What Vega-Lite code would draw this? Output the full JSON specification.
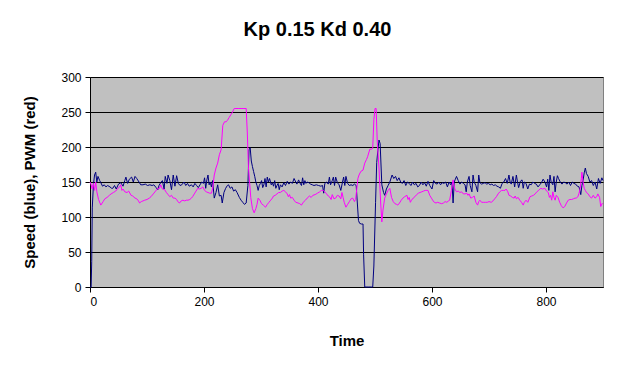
{
"$schema": "https://vega.github.io/schema/vega-lite/v6.json",
"autosize": "none",
"width": 513,
"height": 210,
"padding": {"left": 90, "top": 77, "right": 31, "bottom": 79},
"background": "white",
"title": {"text": "Kp 0.15 Kd 0.40", "fontSize": 20, "fontWeight": "bold", "font": "Liberation Sans", "color": "black", "anchor": "middle", "offset": 31, "dx": -29},
"config": {
  "view": {"fill": "#C0C0C0", "stroke": "#808080", "strokeWidth": 1},
  "axis": {"labelFont": "Liberation Sans", "labelFontSize": 12, "labelColor": "black", "labelOverlap": false, "titleFont": "Liberation Sans", "titleFontSize": 15, "titleFontWeight": "bold", "titleColor": "black", "domainColor": "black", "tickColor": "black", "gridColor": "black", "gridOpacity": 1, "gridWidth": 1}
},
"datasets": {
"speed": [
{"t":0,"v":0},{"t":2,"v":0},{"t":3,"v":36},{"t":4,"v":113},{"t":6,"v":146},{"t":8,"v":160},{"t":10,"v":164},{"t":12,"v":150},{"t":14,"v":158},{"t":17,"v":152},{"t":19,"v":149},{"t":22,"v":144},{"t":25,"v":146},{"t":28,"v":143},{"t":31,"v":145},{"t":35,"v":143},{"t":38,"v":141},{"t":40,"v":141},{"t":43,"v":145},{"t":46,"v":140},{"t":50,"v":147},{"t":54,"v":149},{"t":58,"v":144},{"t":61,"v":152},{"t":63,"v":157},{"t":66,"v":148},{"t":69,"v":154},{"t":73,"v":157},{"t":76,"v":150},{"t":79,"v":158},{"t":82,"v":155},{"t":86,"v":150},{"t":89,"v":146},{"t":93,"v":146},{"t":97,"v":147},{"t":101,"v":145},{"t":105,"v":146},{"t":109,"v":145},{"t":112,"v":146},{"t":116,"v":142},{"t":119,"v":139},{"t":121,"v":145},{"t":124,"v":149},{"t":127,"v":152},{"t":130,"v":140},{"t":132,"v":158},{"t":135,"v":148},{"t":137,"v":160},{"t":140,"v":152},{"t":143,"v":139},{"t":146,"v":160},{"t":149,"v":144},{"t":152,"v":159},{"t":155,"v":148},{"t":158,"v":145},{"t":161,"v":146},{"t":165,"v":150},{"t":168,"v":145},{"t":171,"v":148},{"t":174,"v":144},{"t":178,"v":146},{"t":181,"v":143},{"t":184,"v":148},{"t":187,"v":145},{"t":190,"v":142},{"t":193,"v":146},{"t":196,"v":150},{"t":199,"v":148},{"t":201,"v":156},{"t":203,"v":141},{"t":205,"v":153},{"t":207,"v":160},{"t":209,"v":146},{"t":211,"v":150},{"t":213,"v":143},{"t":215,"v":152},{"t":218,"v":127},{"t":221,"v":135},{"t":224,"v":146},{"t":227,"v":130},{"t":230,"v":131},{"t":232,"v":120},{"t":235,"v":135},{"t":238,"v":141},{"t":241,"v":145},{"t":243,"v":146},{"t":246,"v":141},{"t":249,"v":143},{"t":252,"v":137},{"t":255,"v":139},{"t":258,"v":135},{"t":262,"v":128},{"t":265,"v":124},{"t":268,"v":121},{"t":271,"v":118},{"t":274,"v":120},{"t":277,"v":145},{"t":279,"v":196},{"t":281,"v":199},{"t":283,"v":180},{"t":285,"v":172},{"t":287,"v":165},{"t":289,"v":158},{"t":291,"v":150},{"t":293,"v":145},{"t":295,"v":138},{"t":297,"v":145},{"t":299,"v":148},{"t":301,"v":152},{"t":303,"v":142},{"t":305,"v":146},{"t":307,"v":155},{"t":309,"v":143},{"t":311,"v":157},{"t":313,"v":150},{"t":315,"v":155},{"t":318,"v":146},{"t":320,"v":149},{"t":322,"v":144},{"t":324,"v":152},{"t":326,"v":141},{"t":328,"v":145},{"t":330,"v":148},{"t":332,"v":139},{"t":334,"v":146},{"t":337,"v":143},{"t":340,"v":149},{"t":343,"v":145},{"t":346,"v":151},{"t":349,"v":147},{"t":352,"v":150},{"t":355,"v":148},{"t":358,"v":155},{"t":361,"v":150},{"t":363,"v":147},{"t":366,"v":153},{"t":368,"v":149},{"t":371,"v":145},{"t":373,"v":156},{"t":375,"v":146},{"t":377,"v":152},{"t":379,"v":148},{"t":381,"v":150},{"t":384,"v":149},{"t":387,"v":147},{"t":390,"v":146},{"t":393,"v":145},{"t":397,"v":146},{"t":401,"v":145},{"t":405,"v":144},{"t":408,"v":145},{"t":410,"v":134},{"t":412,"v":148},{"t":415,"v":150},{"t":418,"v":147},{"t":420,"v":157},{"t":422,"v":146},{"t":425,"v":152},{"t":427,"v":157},{"t":429,"v":145},{"t":431,"v":157},{"t":434,"v":149},{"t":437,"v":146},{"t":440,"v":138},{"t":443,"v":150},{"t":445,"v":157},{"t":447,"v":145},{"t":449,"v":158},{"t":452,"v":148},{"t":455,"v":145},{"t":458,"v":146},{"t":461,"v":145},{"t":464,"v":147},{"t":467,"v":145},{"t":469,"v":120},{"t":471,"v":95},{"t":473,"v":91},{"t":476,"v":90},{"t":479,"v":90},{"t":480,"v":46},{"t":482,"v":0},{"t":488,"v":0},{"t":494,"v":0},{"t":496,"v":0},{"t":498,"v":30},{"t":501,"v":121},{"t":503,"v":178},{"t":505,"v":195},{"t":507,"v":210},{"t":509,"v":205},{"t":512,"v":146},{"t":515,"v":135},{"t":517,"v":131},{"t":520,"v":140},{"t":523,"v":145},{"t":526,"v":150},{"t":530,"v":160},{"t":533,"v":155},{"t":536,"v":158},{"t":539,"v":152},{"t":542,"v":156},{"t":545,"v":150},{"t":548,"v":148},{"t":551,"v":152},{"t":554,"v":145},{"t":557,"v":150},{"t":560,"v":148},{"t":563,"v":145},{"t":566,"v":150},{"t":569,"v":146},{"t":572,"v":148},{"t":575,"v":143},{"t":578,"v":145},{"t":581,"v":150},{"t":584,"v":146},{"t":587,"v":149},{"t":590,"v":144},{"t":593,"v":151},{"t":596,"v":145},{"t":600,"v":140},{"t":603,"v":152},{"t":606,"v":148},{"t":609,"v":147},{"t":612,"v":150},{"t":615,"v":146},{"t":618,"v":149},{"t":621,"v":148},{"t":624,"v":150},{"t":627,"v":143},{"t":630,"v":150},{"t":633,"v":146},{"t":635,"v":150},{"t":637,"v":120},{"t":639,"v":150},{"t":641,"v":154},{"t":643,"v":158},{"t":646,"v":152},{"t":649,"v":147},{"t":652,"v":150},{"t":655,"v":148},{"t":658,"v":146},{"t":660,"v":136},{"t":662,"v":150},{"t":665,"v":158},{"t":667,"v":145},{"t":670,"v":136},{"t":672,"v":160},{"t":674,"v":150},{"t":677,"v":145},{"t":680,"v":136},{"t":682,"v":160},{"t":684,"v":149},{"t":687,"v":147},{"t":690,"v":148},{"t":693,"v":149},{"t":696,"v":147},{"t":699,"v":148},{"t":702,"v":146},{"t":705,"v":147},{"t":708,"v":145},{"t":711,"v":146},{"t":714,"v":144},{"t":717,"v":143},{"t":720,"v":141},{"t":723,"v":148},{"t":726,"v":150},{"t":729,"v":155},{"t":732,"v":148},{"t":735,"v":160},{"t":737,"v":150},{"t":739,"v":147},{"t":742,"v":158},{"t":745,"v":143},{"t":748,"v":160},{"t":750,"v":150},{"t":752,"v":142},{"t":755,"v":151},{"t":758,"v":153},{"t":760,"v":141},{"t":762,"v":150},{"t":765,"v":148},{"t":768,"v":140},{"t":771,"v":147},{"t":774,"v":146},{"t":777,"v":150},{"t":780,"v":148},{"t":783,"v":147},{"t":786,"v":143},{"t":789,"v":146},{"t":792,"v":149},{"t":795,"v":154},{"t":798,"v":150},{"t":801,"v":143},{"t":803,"v":154},{"t":805,"v":138},{"t":807,"v":160},{"t":809,"v":150},{"t":812,"v":146},{"t":814,"v":158},{"t":816,"v":136},{"t":818,"v":150},{"t":820,"v":159},{"t":822,"v":155},{"t":825,"v":150},{"t":828,"v":147},{"t":831,"v":150},{"t":834,"v":149},{"t":837,"v":147},{"t":840,"v":150},{"t":843,"v":145},{"t":846,"v":150},{"t":849,"v":148},{"t":852,"v":147},{"t":855,"v":144},{"t":858,"v":143},{"t":861,"v":132},{"t":863,"v":145},{"t":865,"v":152},{"t":867,"v":163},{"t":869,"v":170},{"t":871,"v":162},{"t":874,"v":158},{"t":877,"v":150},{"t":880,"v":152},{"t":883,"v":145},{"t":886,"v":150},{"t":889,"v":140},{"t":892,"v":155},{"t":895,"v":148},{"t":898,"v":156},{"t":900,"v":152}
],
"pwm": [
{"t":0,"v":150},{"t":2,"v":146},{"t":4,"v":140},{"t":6,"v":148},{"t":8,"v":138},{"t":10,"v":150},{"t":12,"v":136},{"t":15,"v":125},{"t":19,"v":117},{"t":23,"v":122},{"t":26,"v":126},{"t":30,"v":128},{"t":34,"v":131},{"t":37,"v":133},{"t":41,"v":135},{"t":45,"v":137},{"t":49,"v":141},{"t":52,"v":143},{"t":54,"v":146},{"t":56,"v":138},{"t":58,"v":140},{"t":61,"v":136},{"t":65,"v":135},{"t":68,"v":137},{"t":72,"v":131},{"t":75,"v":130},{"t":79,"v":127},{"t":82,"v":126},{"t":85,"v":123},{"t":87,"v":120},{"t":90,"v":122},{"t":93,"v":123},{"t":96,"v":124},{"t":100,"v":125},{"t":104,"v":127},{"t":107,"v":129},{"t":111,"v":133},{"t":115,"v":137},{"t":119,"v":141},{"t":122,"v":141},{"t":124,"v":146},{"t":127,"v":140},{"t":131,"v":139},{"t":134,"v":135},{"t":137,"v":132},{"t":140,"v":129},{"t":143,"v":131},{"t":146,"v":127},{"t":149,"v":127},{"t":152,"v":125},{"t":154,"v":122},{"t":157,"v":120},{"t":160,"v":123},{"t":163,"v":124},{"t":166,"v":123},{"t":169,"v":124},{"t":172,"v":124},{"t":175,"v":125},{"t":178,"v":127},{"t":180,"v":129},{"t":183,"v":133},{"t":186,"v":137},{"t":189,"v":141},{"t":192,"v":140},{"t":195,"v":141},{"t":198,"v":143},{"t":201,"v":138},{"t":204,"v":136},{"t":207,"v":135},{"t":210,"v":134},{"t":213,"v":134},{"t":215,"v":140},{"t":218,"v":160},{"t":221,"v":170},{"t":224,"v":177},{"t":227,"v":189},{"t":230,"v":196},{"t":233,"v":231},{"t":236,"v":236},{"t":239,"v":236},{"t":241,"v":238},{"t":244,"v":242},{"t":247,"v":246},{"t":250,"v":250},{"t":253,"v":255},{"t":256,"v":255},{"t":260,"v":255},{"t":265,"v":255},{"t":270,"v":255},{"t":274,"v":255},{"t":276,"v":220},{"t":278,"v":170},{"t":280,"v":150},{"t":282,"v":128},{"t":285,"v":112},{"t":288,"v":106},{"t":291,"v":112},{"t":293,"v":118},{"t":295,"v":127},{"t":298,"v":124},{"t":301,"v":119},{"t":304,"v":117},{"t":308,"v":114},{"t":311,"v":118},{"t":314,"v":121},{"t":317,"v":124},{"t":320,"v":127},{"t":322,"v":130},{"t":325,"v":131},{"t":328,"v":133},{"t":331,"v":135},{"t":334,"v":135},{"t":337,"v":137},{"t":340,"v":138},{"t":343,"v":136},{"t":346,"v":133},{"t":348,"v":129},{"t":350,"v":132},{"t":352,"v":127},{"t":355,"v":128},{"t":358,"v":124},{"t":361,"v":121},{"t":365,"v":120},{"t":368,"v":119},{"t":371,"v":117},{"t":374,"v":121},{"t":378,"v":124},{"t":381,"v":127},{"t":385,"v":130},{"t":388,"v":128},{"t":391,"v":131},{"t":395,"v":132},{"t":399,"v":134},{"t":403,"v":136},{"t":406,"v":138},{"t":409,"v":138},{"t":412,"v":136},{"t":415,"v":133},{"t":418,"v":130},{"t":420,"v":129},{"t":423,"v":125},{"t":425,"v":132},{"t":428,"v":126},{"t":431,"v":127},{"t":434,"v":131},{"t":437,"v":130},{"t":440,"v":126},{"t":442,"v":135},{"t":444,"v":128},{"t":446,"v":121},{"t":449,"v":114},{"t":452,"v":118},{"t":455,"v":122},{"t":458,"v":126},{"t":461,"v":127},{"t":464,"v":122},{"t":466,"v":125},{"t":468,"v":140},{"t":470,"v":155},{"t":472,"v":160},{"t":475,"v":165},{"t":479,"v":167},{"t":482,"v":177},{"t":485,"v":182},{"t":487,"v":186},{"t":491,"v":197},{"t":494,"v":197},{"t":496,"v":198},{"t":498,"v":239},{"t":500,"v":255},{"t":502,"v":255},{"t":504,"v":207},{"t":507,"v":170},{"t":510,"v":120},{"t":512,"v":93},{"t":514,"v":110},{"t":517,"v":127},{"t":520,"v":133},{"t":523,"v":138},{"t":526,"v":141},{"t":529,"v":128},{"t":532,"v":122},{"t":535,"v":119},{"t":538,"v":118},{"t":540,"v":117},{"t":543,"v":120},{"t":546,"v":124},{"t":549,"v":127},{"t":552,"v":129},{"t":556,"v":131},{"t":558,"v":125},{"t":560,"v":128},{"t":562,"v":121},{"t":564,"v":124},{"t":567,"v":127},{"t":570,"v":129},{"t":573,"v":132},{"t":576,"v":134},{"t":579,"v":135},{"t":582,"v":136},{"t":585,"v":137},{"t":588,"v":138},{"t":591,"v":138},{"t":593,"v":138},{"t":596,"v":131},{"t":599,"v":127},{"t":602,"v":123},{"t":604,"v":121},{"t":607,"v":120},{"t":610,"v":121},{"t":613,"v":120},{"t":617,"v":119},{"t":620,"v":120},{"t":623,"v":122},{"t":626,"v":121},{"t":629,"v":123},{"t":631,"v":124},{"t":634,"v":138},{"t":637,"v":153},{"t":640,"v":140},{"t":643,"v":136},{"t":646,"v":137},{"t":649,"v":135},{"t":652,"v":136},{"t":655,"v":133},{"t":658,"v":133},{"t":661,"v":134},{"t":663,"v":131},{"t":665,"v":133},{"t":668,"v":127},{"t":671,"v":128},{"t":674,"v":130},{"t":677,"v":121},{"t":680,"v":117},{"t":682,"v":122},{"t":684,"v":124},{"t":687,"v":121},{"t":690,"v":121},{"t":694,"v":121},{"t":697,"v":121},{"t":700,"v":122},{"t":704,"v":121},{"t":707,"v":123},{"t":710,"v":126},{"t":713,"v":129},{"t":716,"v":133},{"t":719,"v":136},{"t":722,"v":138},{"t":725,"v":138},{"t":728,"v":138},{"t":730,"v":140},{"t":733,"v":136},{"t":735,"v":131},{"t":738,"v":130},{"t":741,"v":128},{"t":744,"v":127},{"t":746,"v":130},{"t":748,"v":126},{"t":751,"v":128},{"t":754,"v":124},{"t":757,"v":121},{"t":760,"v":117},{"t":762,"v":121},{"t":765,"v":124},{"t":768,"v":121},{"t":772,"v":129},{"t":775,"v":130},{"t":778,"v":131},{"t":781,"v":133},{"t":784,"v":136},{"t":787,"v":138},{"t":791,"v":141},{"t":794,"v":140},{"t":798,"v":141},{"t":801,"v":137},{"t":804,"v":135},{"t":806,"v":128},{"t":808,"v":131},{"t":810,"v":124},{"t":812,"v":136},{"t":814,"v":128},{"t":816,"v":124},{"t":818,"v":131},{"t":821,"v":128},{"t":824,"v":121},{"t":827,"v":116},{"t":830,"v":113},{"t":833,"v":115},{"t":836,"v":120},{"t":839,"v":124},{"t":842,"v":125},{"t":845,"v":125},{"t":848,"v":126},{"t":851,"v":127},{"t":853,"v":127},{"t":856,"v":129},{"t":858,"v":134},{"t":860,"v":141},{"t":862,"v":155},{"t":863,"v":164},{"t":865,"v":150},{"t":867,"v":141},{"t":869,"v":138},{"t":871,"v":135},{"t":874,"v":133},{"t":877,"v":129},{"t":880,"v":127},{"t":883,"v":131},{"t":886,"v":127},{"t":889,"v":129},{"t":891,"v":133},{"t":894,"v":128},{"t":896,"v":115},{"t":899,"v":120}
]
},
"encoding": {
  "x": {"field": "t", "type": "quantitative", "title": "Time", "scale": {"domain": [0, 900], "nice": false, "zero": false}, "axis": {"values": [0, 200, 400, 600, 800], "tickCount": 5, "grid": false, "tickSize": 5, "labelPadding": 4, "titlePadding": 26}},
  "y": {"field": "v", "type": "quantitative", "title": "Speed (blue), PWM (red)", "scale": {"domain": [0, 300], "nice": false}, "axis": {"values": [0, 50, 100, 150, 200, 250, 300], "tickCount": 7, "grid": true, "tickSize": 5, "labelPadding": 4, "titlePadding": 23}}
},
"layer": [
  {
    "data": {"name": "speed"},
    "mark": {"type": "line", "color": "#000080", "strokeWidth": 1, "interpolate": "linear"}
  },
  {
    "data": {"name": "pwm"},
    "mark": {"type": "line", "color": "#FF00FF", "strokeWidth": 1, "interpolate": "linear"}
  }
]
}
